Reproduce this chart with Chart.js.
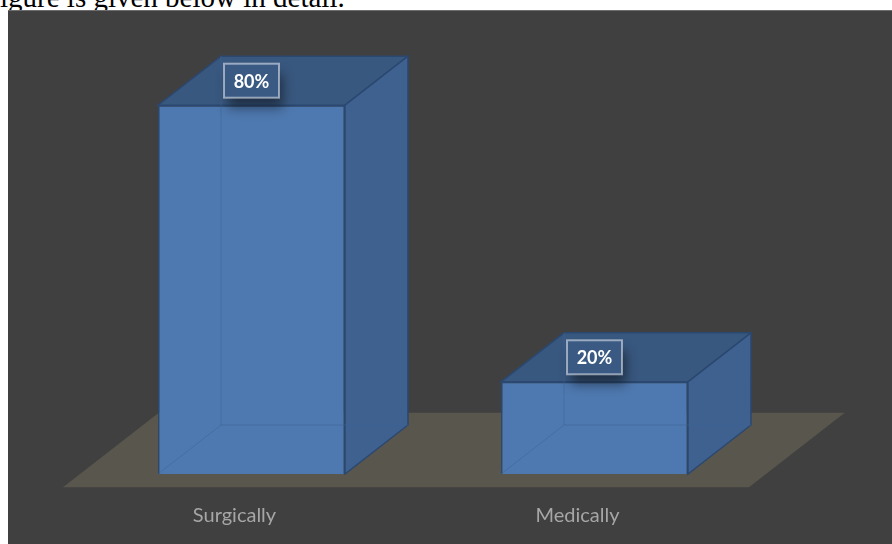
<!DOCTYPE html>
<html>
<head>
<meta charset="utf-8">
<script src="https://cdn.jsdelivr.net/npm/chart.js@4"></script>
<style>
  body { margin: 0; background: #fff; width: 892px; height: 544px; overflow: hidden; position: relative; }
  #caption { position: absolute; left: 0; top: -17px; font: 29px/29px "Liberation Serif", "Times New Roman", serif; color: #000; white-space: nowrap; }
  #panel { position: absolute; left: 8px; top: 10px; width: 884px; height: 534px; background: #404040; border-top: 1px solid #6e6e6e; box-sizing: border-box; }
  #chart { position: absolute; left: 0; top: 0; }
</style>
</head>
<body>
<div id="caption">igure is given below in detail.</div>
<div id="panel"><canvas id="chart" width="884" height="533"></canvas></div>
<script>
// data
const categories = ['Surgically', 'Medically'];
const shares = [80, 20];
const shareLabels = ['80%', '20%'];

// 3d look
const depth = { x: 63, y: -49 };

function poly(ctx, pts, fill, stroke) {
    ctx.beginPath();
    ctx.moveTo(pts[0][0], pts[0][1]);
    for (let i = 1; i < pts.length; i++) ctx.lineTo(pts[i][0], pts[i][1]);
    ctx.closePath();
    if (fill) { ctx.fillStyle = fill; ctx.fill(); }
    if (stroke) { ctx.strokeStyle = stroke; ctx.lineWidth = 1.5; ctx.stroke(); }
}

const box3d = {
    id: 'box3d',
    beforeDatasetsDraw(chart) {
        const { ctx, chartArea: a, scales: { y } } = chart;
        const base = y.getPixelForValue(0);
        const f = -0.27, b = 1.25;
        ctx.save();
        poly(ctx, [
            [a.left + f * depth.x, base + f * depth.y],
            [a.right + f * depth.x, base + f * depth.y],
            [a.right + b * depth.x, base + b * depth.y],
            [a.left + b * depth.x, base + b * depth.y]
        ], '#59564d');
        ctx.restore();
    },
    afterDatasetsDraw(chart) {
        const ctx = chart.ctx;
        const dx = depth.x, dy = depth.y;
        ctx.save();
        chart.getDatasetMeta(0).data.forEach((bar, i) => {
            const { x, y, base, width } = bar.getProps(['x', 'y', 'base', 'width'], true);
            const l = x - width / 2, r = x + width / 2;
            // top and side faces
            poly(ctx, [[l, y], [r, y], [r + dx, y + dy], [l + dx, y + dy]], '#39587f', '#2b4870');
            poly(ctx, [[r, y], [r + dx, y + dy], [r + dx, base + dy], [r, base]], '#3f6190', '#2b4870');
            // hidden edges seen through
            ctx.strokeStyle = 'rgba(60,100,150,0.55)';
            ctx.lineWidth = 1;
            ctx.beginPath();
            ctx.moveTo(l, base); ctx.lineTo(l + dx, base + dy);
            ctx.lineTo(r + dx, base + dy);
            ctx.moveTo(l + dx, base + dy); ctx.lineTo(l + dx, y + dy);
            ctx.stroke();

            // value label box
            const cx = x, cy = y + dy / 2;
            const bw = 55, bh = 34;
            ctx.save();
            ctx.shadowColor = 'rgba(0,0,0,0.45)';
            ctx.shadowBlur = 12;
            ctx.shadowOffsetX = 4;
            ctx.shadowOffsetY = 10;
            ctx.fillStyle = '#3a5a84';
            ctx.fillRect(cx - bw / 2, cy - bh / 2, bw, bh);
            ctx.restore();
            ctx.strokeStyle = 'rgba(220,225,235,0.6)';
            ctx.lineWidth = 2;
            ctx.strokeRect(cx - bw / 2, cy - bh / 2, bw, bh);
            ctx.fillStyle = '#ffffff';
            ctx.font = 'bold 18px Lato, "Open Sans", sans-serif';
            ctx.textAlign = 'center';
            ctx.textBaseline = 'middle';
            ctx.fillText(shareLabels[i], cx, cy + 1);
        });
        ctx.restore();
    }
};

new Chart(document.getElementById('chart'), {
    type: 'bar',
    data: {
        labels: categories,
        datasets: [{
            data: shares,
            backgroundColor: '#4e79b0',
            borderColor: '#2b4870',
            borderWidth: 1.5,
            barPercentage: 0.545,
            categoryPercentage: 1
        }]
    },
    options: {
        responsive: false,
        devicePixelRatio: 1,
        animation: false,
        layout: { padding: { left: 72, right: 126, top: 2, bottom: 0 } },
        plugins: { legend: { display: false }, tooltip: { enabled: false } },
        scales: {
            y: { display: false, min: 0, max: 100 },
            x: {
                grid: { display: false, drawTicks: false },
                border: { display: false },
                ticks: {
                    color: '#a6a6a6',
                    font: { family: 'Lato, "Open Sans", sans-serif', size: 20 },
                    padding: 30,
                    labelOffset: -17
                },
                afterFit(scale) { scale.height = 70; }
            }
        }
    },
    plugins: [box3d]
});
</script>
</body>
</html>
